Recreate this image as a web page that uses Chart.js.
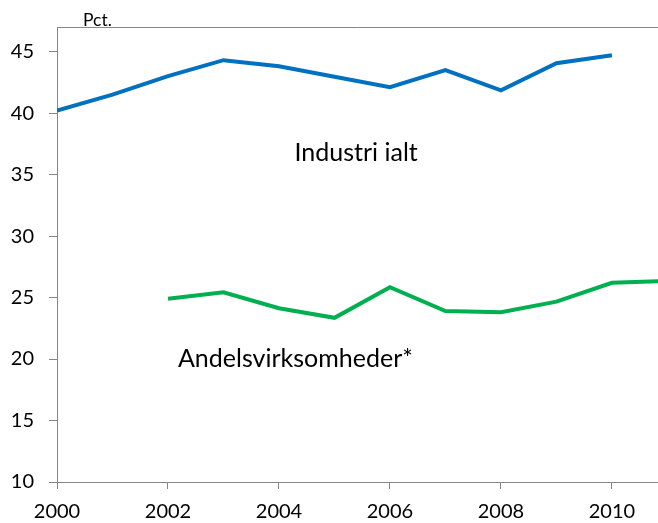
<!DOCTYPE html>
<html>
<head>
<meta charset="utf-8">
<script src="https://cdn.jsdelivr.net/npm/chart.js@4/dist/chart.umd.min.js"></script>
<style>
  html, body { margin: 0; padding: 0; background: #fff; }
  #wrap { width: 658px; height: 523px; position: relative; }
</style>
</head>
<body>
<div id="wrap"><canvas id="c" width="658" height="523"></canvas></div>
<script>
// Data
const yearsIndustri = [2000, 2001, 2002, 2003, 2004, 2005, 2006, 2007, 2008, 2009, 2010];
const valuesIndustri = [40.2, 41.5, 43.0, 44.3, 43.8, 42.95, 42.1, 43.5, 41.85, 44.05, 44.7];
const yearsAndels = [2002, 2003, 2004, 2005, 2006, 2007, 2008, 2009, 2010, 2011];
const valuesAndels = [24.9, 25.43, 24.13, 23.35, 25.84, 23.9, 23.8, 24.67, 26.2, 26.35];
const seriesLabels = ["Industri ialt", "Andelsvirksomheder*"];
const unitLabel = "Pct.";

const pts = (xs, ys) => xs.map((x, i) => ({ x: x, y: ys[i] }));

const FONT = "Lato, 'Open Sans', sans-serif";
const AXIS_GRAY = "#868686";

const annotations = [
  { text: seriesLabels[0], x: 2004.28, y: 36.11 },
  { text: seriesLabels[1], x: 2002.18, y: 19.38 }
];

const extrasPlugin = {
  id: "extras",
  afterDatasetsDraw(chart) {
    const { ctx, chartArea, scales } = chart;
    ctx.save();
    // top border
    ctx.strokeStyle = AXIS_GRAY;
    ctx.lineWidth = 1;
    ctx.beginPath();
    ctx.moveTo(chartArea.left, Math.round(chartArea.top) + 0.5);
    ctx.lineTo(chart.width, Math.round(chartArea.top) + 0.5);
    ctx.stroke();
    // unit label
    ctx.fillStyle = "#000";
    ctx.font = "17.5px " + FONT;
    ctx.textAlign = "left";
    ctx.textBaseline = "alphabetic";
    ctx.fillText(unitLabel, chartArea.left + 26, chartArea.top - 1.5);
    // series annotations
    ctx.font = "25px " + FONT;
    annotations.forEach(a => {
      ctx.fillText(a.text, scales.x.getPixelForValue(a.x), scales.y.getPixelForValue(a.y));
    });
    ctx.restore();
  }
};

new Chart(document.getElementById("c"), {
  type: "line",
  data: {
    datasets: [
      {
        label: seriesLabels[0],
        data: pts(yearsIndustri, valuesIndustri),
        borderColor: "#0070C0",
        borderWidth: 4,
        pointRadius: 0,
        tension: 0,
        fill: false
      },
      {
        label: seriesLabels[1],
        data: pts(yearsAndels, valuesAndels),
        borderColor: "#00B050",
        borderWidth: 4,
        pointRadius: 0,
        tension: 0,
        fill: false
      }
    ]
  },
  options: {
    responsive: false,
    animation: false,
    events: [],
    layout: { padding: { top: 27, right: 0, bottom: 0, left: 0 } },
    plugins: { legend: { display: false }, tooltip: { enabled: false } },
    scales: {
      x: {
        type: "linear",
        min: 2000,
        max: 2010.83,
        afterFit: s => { s.height = 41; },
        ticks: {
          stepSize: 2,
          includeBounds: false,
          autoSkip: false,
          maxRotation: 0,
          padding: 11,
          color: "#000",
          font: { family: FONT, size: 20 },
          callback: v => String(v)
        },
        grid: { drawOnChartArea: false, drawTicks: true, tickLength: 7, color: AXIS_GRAY },
        border: { color: AXIS_GRAY, width: 1 }
      },
      y: {
        min: 10,
        max: 47,
        afterFit: s => { s.width = 57; },
        ticks: {
          stepSize: 5,
          includeBounds: false,
          padding: 15,
          color: "#000",
          font: { family: FONT, size: 20 },
          callback: v => String(v)
        },
        grid: { drawOnChartArea: false, drawTicks: true, tickLength: 8, color: AXIS_GRAY },
        border: { color: AXIS_GRAY, width: 1 }
      }
    }
  },
  plugins: [extrasPlugin]
});
</script>
</body>
</html>
